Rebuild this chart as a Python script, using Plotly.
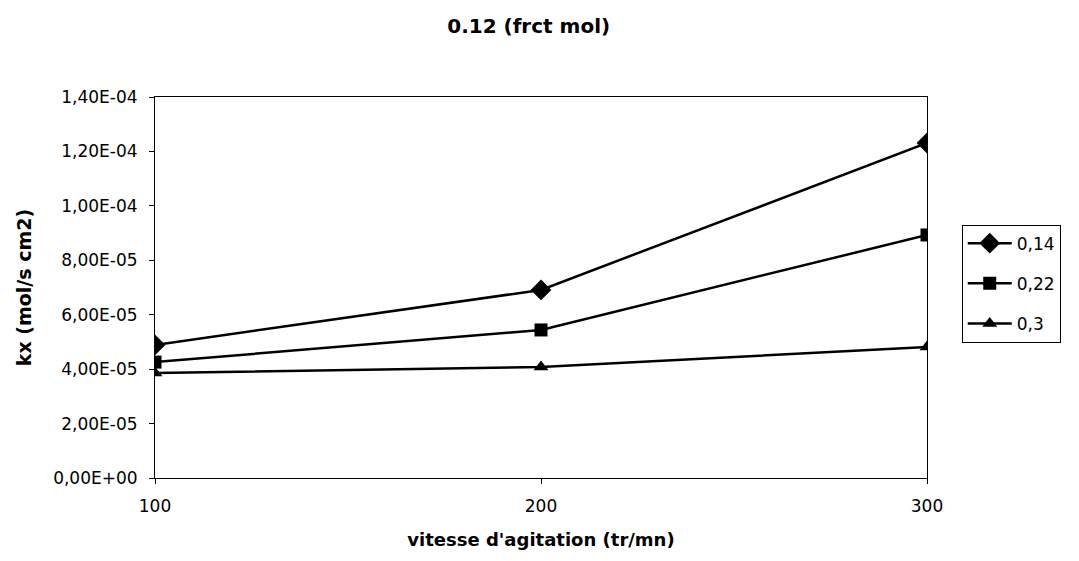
import plotly.graph_objects as go

x_vals = [100, 200, 300]
series_names = ["0,14", "0,22", "0,3"]
s014 = [4.89e-5, 6.91e-5, 1.231e-4]
s022 = [4.26e-5, 5.44e-5, 8.93e-5]
s03 = [3.86e-5, 4.08e-5, 4.81e-5]
y_tickvals = [0, 2e-5, 4e-5, 6e-5, 8e-5, 1e-4, 1.2e-4, 1.4e-4]
y_ticktext = ["0,00E+00", "2,00E-05", "4,00E-05", "6,00E-05", "8,00E-05",
              "1,00E-04", "1,20E-04", "1,40E-04"]
x_tickvals = [100, 200, 300]

font_fam = "DejaVu Sans, Arial, sans-serif"

fig = go.Figure()
symbols = ["diamond", "square", "triangle-up"]
sizes = [16, 13, 13]
for i, (name, ys, sym, sz) in enumerate(zip(series_names, [s014, s022, s03], symbols, sizes)):
    fig.add_trace(go.Scatter(
        x=x_vals, y=ys, name=name, mode="lines+markers",
        legendgroup=f"g{i}",
        line=dict(color="black", width=2.5),
        marker=dict(symbol=sym, size=sz, color="black"),
    ))

fig.update_layout(
    width=1079, height=561,
    margin=dict(l=155, r=152, t=97, b=83),
    paper_bgcolor="white", plot_bgcolor="white",
    font=dict(family=font_fam, color="black", size=16),
    title=dict(text="<b>0.12 (frct mol)</b>", x=0.49, xanchor="center",
               y=0.953, yanchor="middle", font=dict(size=20)),
    showlegend=True,
    legend=dict(x=1.045, y=0.665, xanchor="left", yanchor="top",
                bordercolor="black", borderwidth=1, bgcolor="white",
                font=dict(size=17), tracegroupgap=15, itemwidth=44),
)
fig.update_xaxes(
    range=[100, 300], tickvals=x_tickvals, ticktext=[str(v) for v in x_tickvals],
    showline=True, linecolor="black", linewidth=1, mirror=True,
    ticks="outside", ticklen=5, tickcolor="black", showgrid=False, zeroline=False,
    tickfont=dict(size=17), ticklabelstandoff=8,
    title=dict(text="<b>vitesse d'agitation (tr/mn)</b>", font=dict(size=18), standoff=17),
)
fig.update_yaxes(
    range=[0, 1.4e-4], tickvals=y_tickvals, ticktext=y_ticktext,
    showline=True, linecolor="black", linewidth=1, mirror=True,
    ticks="outside", ticklen=5, tickcolor="black", showgrid=False, zeroline=False,
    tickfont=dict(size=17), ticklabelstandoff=8,
    title=dict(text="<b>kx (mol/s cm2)</b>", font=dict(size=19), standoff=16),
)

fig.write_html("out.html")
